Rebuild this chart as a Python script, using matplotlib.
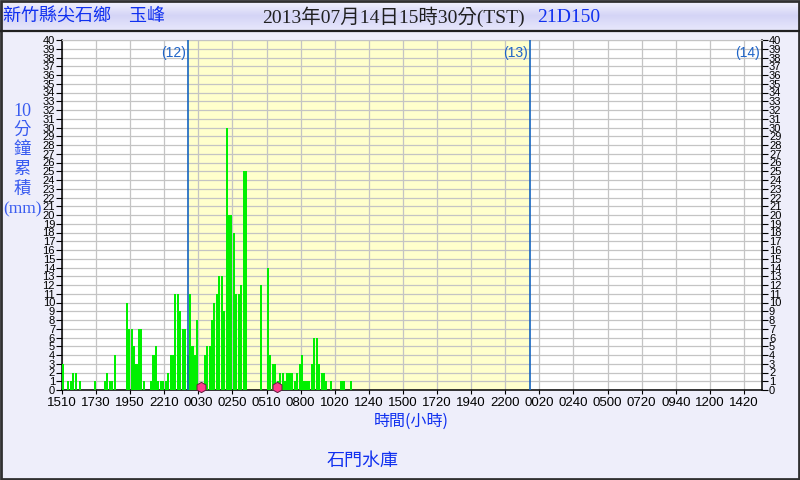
import matplotlib
matplotlib.use("Agg")
import matplotlib.pyplot as plt
import numpy as np
from matplotlib.patches import Rectangle

# 10-minute rainfall (mm), one value per 10-minute slot starting at the left edge
rain = [3, 0, 1, 1, 2, 2, 0, 1, 0, 0,
        0, 0, 0, 1, 0, 0, 0, 1, 2, 1,
        1, 4, 0, 0, 0, 0, 10, 7, 7, 5,
        3, 7, 7, 1, 0, 0, 1, 4, 5, 1,
        1, 1, 1, 2, 4, 4, 11, 11, 9, 7,
        7, 4, 11, 5, 4, 8, 0, 0, 4, 5,
        5, 8, 10, 11, 13, 13, 9, 30, 20, 20,
        18, 11, 11, 12, 25, 25, 0, 0, 0, 0,
        0, 12, 0, 0, 14, 4, 3, 3, 1, 2,
        2, 1, 2, 2, 2, 1, 2, 3, 4, 1,
        1, 1, 3, 6, 6, 3, 2, 2, 1, 0,
        1, 0, 0, 0, 1, 1, 0, 0, 1]

tick_labels = ['1510', '1730', '1950', '2210', '0030', '0250', '0510', '0800',
               '1020', '1240', '1500', '1720', '1940', '2200', '0020', '0240',
               '0500', '0720', '0940', '1200', '1420']
tick_step = 14          # slots between labels
day_lines = [51.9, 192.1, 287.4]
day_names = ['(12)', '(13)', '(14)']
markers_x = [57.1, 88.3]   # little pink icons on the axis
x_end = 287.4

BG = '#eeeefa'
BLUE = '#1030f0'
CJK = ['Noto Sans CJK TC', 'DejaVu Sans']

fig = plt.figure(figsize=(8, 4.8), dpi=100, facecolor=BG)

# header band with a soft gradient
hdr = fig.add_axes([0, 449 / 480, 1, 31 / 480])
grad = np.linspace(0, 1, 64).reshape(-1, 1)
hdr.imshow(grad, aspect='auto', cmap=matplotlib.colors.LinearSegmentedColormap.from_list(
    'h', ['#f6f6ff', '#d4d4f6', '#e8e8fc']), extent=[0, 1, 0, 1])
hdr.set_axis_off()
fig.add_artist(plt.Line2D([0, 1], [449 / 480, 449 / 480], transform=fig.transFigure,
                          color='#202020', lw=1.6))
fig.add_artist(Rectangle((0.001, 0.002), 0.998, 0.996, transform=fig.transFigure,
                         fill=False, edgecolor='#303030', lw=2))

fig.text(3 / 800, 1 - 17 / 480, '新竹縣尖石鄉　玉峰', color=BLUE, fontsize=13,
         family=CJK, ha='left', va='center')
fig.text(262 / 800, 1 - 17 / 480, '2013年07月14日15時30分(TST)', color='#202020',
         fontsize=14, family=['Liberation Serif', 'Noto Sans CJK TC'],
         ha='left', va='center')
fig.text(537 / 800, 1 - 17 / 480, '21D150', color=BLUE, fontsize=14,
         family=['Liberation Serif'], ha='left', va='center')

ax = fig.add_axes([62 / 800, 90 / 480, (762 - 62) / 800, 350 / 480])
ax.set_facecolor('white')
ax.axvspan(day_lines[0], day_lines[1], color='#ffffcc', zorder=0, lw=0)

x = np.arange(len(rain)) + 0.15
ax.bar(x, rain, width=0.85, align='edge', color='#00f000', zorder=3, lw=0)

for xl, name in zip(day_lines, day_names):
    if xl < x_end - 0.5:
        ax.axvline(xl, color='#1565c0', lw=1.2, zorder=4)
    ax.text(xl - 0.8, 38.5, name, color='#1e64c8', fontsize=10, family='Liberation Sans',
            ha='right', va='center', zorder=5)

ax.scatter(markers_x, [0.3] * len(markers_x), s=55, marker='h', color='#ff3c8c',
           edgecolors='#602040', linewidths=0.7, zorder=6, clip_on=False)

ax.set_xlim(0, x_end)
ax.set_ylim(0, 40)
ax.set_xticks(np.arange(len(tick_labels)) * tick_step)
ax.set_xticklabels(tick_labels, fontsize=9.5, family='Liberation Sans')
ax.set_yticks(range(0, 41))
ax.tick_params(axis='y', which='both', left=True, right=True, labelleft=True,
               labelright=True, direction='out', length=4, pad=1, labelsize=8,
               width=0.8)
for lab in ax.get_yticklabels():
    lab.set_family('Liberation Sans')
ax.tick_params(axis='x', direction='out', length=3, pad=2, width=0.8)
ax.grid(True, color='#c4c4c4', lw=0.9, zorder=1)
ax.set_axisbelow(True)
for s in ['left', 'bottom', 'right']:
    ax.spines[s].set_color('black')
    ax.spines[s].set_linewidth(1.1)
ax.spines['top'].set_color('#c4c4c4')

# vertical y-axis label, one glyph per line
ylab = ['10', '分', '鐘', '累', '積', '(mm)']
for k, t in enumerate(ylab):
    fig.text(22 / 800, 1 - (111 + k * 19.6) / 480, t, color='#3a5cf0',
             fontsize=12.5 if k else 13, family=['Liberation Serif', 'Noto Sans CJK TC'],
             ha='center', va='center')

fig.text(411 / 800, 1 - 421 / 480, '時間(小時)', color=BLUE, fontsize=11.5,
         family=CJK, ha='center', va='center')
fig.text(363 / 800, 1 - 461 / 480, '石門水庫', color=BLUE, fontsize=13,
         family=CJK, ha='center', va='center')

fig.savefig('out.png', dpi=100, facecolor=BG)
